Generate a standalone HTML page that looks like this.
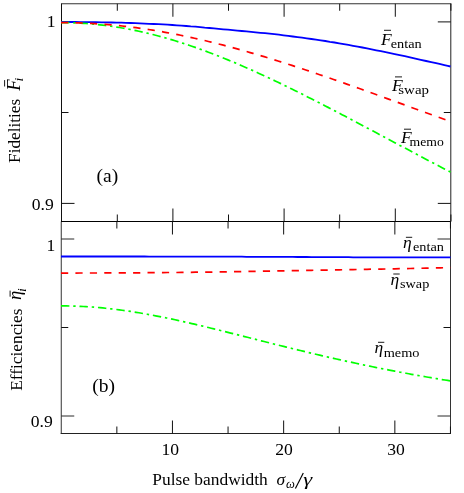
<!DOCTYPE html>
<html><head><meta charset="utf-8"><style>
html,body{margin:0;padding:0;background:#fff}
svg{display:block;will-change:transform}
text{font-family:"Liberation Serif",serif;fill:#000}
.t{font-size:17.6px}
.mi{font-size:17.5px;font-style:italic}
.sub{font-size:13.5px}
.tk{stroke:#111;stroke-width:1}
.tkd{stroke:#000;stroke-width:1}
.tkg{stroke:#2a2a2a;stroke-width:1}
.bar{stroke:#000;stroke-width:0.9}
.c{fill:none;stroke-width:1.7}
</style></head><body>
<svg width="464" height="493" viewBox="0 0 464 493">
<rect width="464" height="493" fill="#fff"/>
<line x1="61.0" y1="3.75" x2="451.3" y2="3.75" stroke="#333"/>
<line x1="450.8" y1="3.75" x2="450.8" y2="221.5" stroke="#222"/>
<line x1="450.5" y1="221.5" x2="450.5" y2="434.0" stroke="#333"/>
<line x1="61.5" y1="3.75" x2="61.5" y2="221.5" stroke="#111"/>
<line x1="61.25" y1="221.5" x2="61.25" y2="434.0" stroke="#333"/>
<line x1="61.0" y1="221.5" x2="450.8" y2="221.5" stroke="#000"/>
<line x1="60.75" y1="433.5" x2="451.0" y2="433.5" stroke="#222"/>
<line x1="117.30" y1="3.75" x2="117.30" y2="10.75" class="tk"/><line x1="117.30" y1="214.5" x2="117.30" y2="221.5" class="tk"/><line x1="116.85" y1="221.5" x2="116.85" y2="228.5" class="tk"/><line x1="116.85" y1="433.5" x2="116.85" y2="426.5" class="tk"/><line x1="172.90" y1="3.75" x2="172.90" y2="16.75" class="tk"/><line x1="172.90" y1="208.5" x2="172.90" y2="221.5" class="tk"/><line x1="172.45" y1="221.5" x2="172.45" y2="234.5" class="tk"/><line x1="172.45" y1="433.5" x2="172.45" y2="420.5" class="tk"/><line x1="228.50" y1="3.75" x2="228.50" y2="10.75" class="tk"/><line x1="228.50" y1="214.5" x2="228.50" y2="221.5" class="tk"/><line x1="228.05" y1="221.5" x2="228.05" y2="228.5" class="tk"/><line x1="228.05" y1="433.5" x2="228.05" y2="426.5" class="tk"/><line x1="284.10" y1="3.75" x2="284.10" y2="16.75" class="tk"/><line x1="284.10" y1="208.5" x2="284.10" y2="221.5" class="tk"/><line x1="283.65" y1="221.5" x2="283.65" y2="234.5" class="tk"/><line x1="283.65" y1="433.5" x2="283.65" y2="420.5" class="tk"/><line x1="339.70" y1="3.75" x2="339.70" y2="10.75" class="tk"/><line x1="339.70" y1="214.5" x2="339.70" y2="221.5" class="tk"/><line x1="339.25" y1="221.5" x2="339.25" y2="228.5" class="tk"/><line x1="339.25" y1="433.5" x2="339.25" y2="426.5" class="tk"/><line x1="395.30" y1="3.75" x2="395.30" y2="16.75" class="tk"/><line x1="395.30" y1="208.5" x2="395.30" y2="221.5" class="tk"/><line x1="394.85" y1="221.5" x2="394.85" y2="234.5" class="tk"/><line x1="394.85" y1="433.5" x2="394.85" y2="420.5" class="tk"/><line x1="450.90" y1="3.75" x2="450.90" y2="10.75" class="tk"/><line x1="450.90" y1="214.5" x2="450.90" y2="221.5" class="tk"/><line x1="450.45" y1="221.5" x2="450.45" y2="228.5" class="tk"/><line x1="450.45" y1="433.5" x2="450.45" y2="426.5" class="tk"/><line x1="61.5" y1="21.9" x2="74.5" y2="21.9" class="tk"/><line x1="450.8" y1="21.9" x2="437.8" y2="21.9" class="tk"/><line x1="61.5" y1="112.5" x2="68.5" y2="112.5" class="tk"/><line x1="450.8" y1="112.5" x2="443.8" y2="112.5" class="tk"/><line x1="61.5" y1="203.4" x2="74.5" y2="203.4" class="tk"/><line x1="450.8" y1="203.4" x2="437.8" y2="203.4" class="tk"/><line x1="61.25" y1="239.0" x2="74.25" y2="239.0" class="tkg"/><line x1="450.5" y1="239.0" x2="437.5" y2="239.0" class="tkg"/><line x1="61.25" y1="327.5" x2="68.25" y2="327.5" class="tk"/><line x1="450.5" y1="327.5" x2="443.5" y2="327.5" class="tk"/><line x1="61.25" y1="416.0" x2="74.25" y2="416.0" class="tkg"/><line x1="450.5" y1="416.0" x2="437.5" y2="416.0" class="tkg"/>
<path d="M61.0,21.9 L63.7,21.9 L67.1,22.0 L71.0,22.0 L75.4,22.0 L80.2,22.1 L85.3,22.1 L90.6,22.2 L96.0,22.2 L101.4,22.3 L106.7,22.4 L111.8,22.5 L116.6,22.6 L121.3,22.7 L125.9,22.9 L130.6,23.0 L135.2,23.2 L139.8,23.4 L144.5,23.6 L149.1,23.8 L153.7,24.0 L158.4,24.2 L163.0,24.4 L167.6,24.7 L172.3,25.0 L176.9,25.3 L181.6,25.6 L186.2,26.0 L190.8,26.4 L195.5,26.7 L200.1,27.1 L204.7,27.6 L209.4,28.0 L214.0,28.4 L218.6,28.8 L223.3,29.3 L227.9,29.7 L232.6,30.1 L237.2,30.6 L241.8,31.0 L246.5,31.4 L251.1,31.8 L255.7,32.3 L260.4,32.8 L265.0,33.2 L269.6,33.7 L274.3,34.2 L278.9,34.7 L283.6,35.3 L288.2,35.9 L292.8,36.5 L297.5,37.1 L302.1,37.7 L306.7,38.3 L311.4,39.0 L316.0,39.6 L320.7,40.3 L325.3,41.0 L329.9,41.8 L334.6,42.5 L339.2,43.3 L343.8,44.1 L348.5,44.9 L353.1,45.8 L357.7,46.6 L362.4,47.5 L367.0,48.4 L371.7,49.3 L376.3,50.3 L380.9,51.2 L385.6,52.2 L390.2,53.1 L394.8,54.1 L399.7,55.1 L404.8,56.2 L410.1,57.4 L415.4,58.6 L420.8,59.8 L426.1,61.0 L431.2,62.1 L436.1,63.2 L440.5,64.2 L444.4,65.1 L447.8,65.9 L450.5,66.5" class="c" stroke="#0000ff" style="stroke-width:1.8"/>
<path d="M61.0,22.60 L63.8,22.61 L66.6,22.65 L69.3,22.70 L72.1,22.78 L74.9,22.88 L77.7,23.01 L80.5,23.15 L83.3,23.32 L86.0,23.51 L88.8,23.72 L91.6,23.96 L94.4,24.22 L97.2,24.50 L99.9,24.80 L102.7,25.12 L105.5,25.47 L108.3,25.83 L111.1,26.22 L113.9,26.63 L116.6,27.06 L119.4,27.51 L122.2,27.99 L125.0,28.48 L127.8,29.00 L130.6,29.53 L133.3,30.09 L136.1,30.67 L138.9,31.26 L141.7,31.88 L144.5,32.52 L147.2,33.17 L150.0,33.85 L152.8,34.55 L155.6,35.26 L158.4,36.00 L161.2,36.75 L163.9,37.52 L166.7,38.31 L169.5,39.12 L172.3,39.94 L175.1,40.79 L177.8,41.65 L180.6,42.53 L183.4,43.42 L186.2,44.33 L189.0,45.26 L191.8,46.21 L194.5,47.17 L197.3,48.15 L200.1,49.14 L202.9,50.15 L205.7,51.17 L208.4,52.21 L211.2,53.26 L214.0,54.33 L216.8,55.41 L219.6,56.51 L222.4,57.62 L225.1,58.74 L227.9,59.88 L230.7,61.03 L233.5,62.19 L236.3,63.36 L239.0,64.55 L241.8,65.74 L244.6,66.95 L247.4,68.18 L250.2,69.41 L253.0,70.65 L255.7,71.90 L258.5,73.17 L261.3,74.44 L264.1,75.72 L266.9,77.02 L269.6,78.32 L272.4,79.63 L275.2,80.95 L278.0,82.28 L280.8,83.62 L283.6,84.96 L286.3,86.32 L289.1,87.68 L291.9,89.04 L294.7,90.42 L297.5,91.80 L300.3,93.19 L303.0,94.58 L305.8,95.98 L308.6,97.39 L311.4,98.80 L314.2,100.22 L316.9,101.64 L319.7,103.07 L322.5,104.50 L325.3,105.94 L328.1,107.38 L330.9,108.82 L333.6,110.27 L336.4,111.72 L339.2,113.18 L342.0,114.64 L344.8,116.10 L347.5,117.56 L350.3,119.03 L353.1,120.50 L355.9,121.97 L358.7,123.45 L361.5,124.92 L364.2,126.40 L367.0,127.88 L369.8,129.36 L372.6,130.84 L375.4,132.32 L378.1,133.80 L380.9,135.28 L383.7,136.76 L386.5,138.25 L389.3,139.73 L392.1,141.21 L394.8,142.70 L397.6,144.18 L400.4,145.66 L403.2,147.14 L406.0,148.62 L408.8,150.10 L411.5,151.58 L414.3,153.05 L417.1,154.53 L419.9,156.00 L422.7,157.47 L425.4,158.94 L428.2,160.41 L431.0,161.87 L433.8,163.34 L436.6,164.80 L439.4,166.26 L442.1,167.71 L444.9,169.17 L447.7,170.62 L450.5,172.06" class="c" stroke="#00ff00" stroke-dasharray="8.4 3.85 2.4 3.85"/>
<path d="M61.0,22.60 L63.8,22.61 L66.6,22.63 L69.3,22.66 L72.1,22.71 L74.9,22.78 L77.7,22.86 L80.5,22.95 L83.3,23.05 L86.0,23.17 L88.8,23.31 L91.6,23.46 L94.4,23.62 L97.2,23.80 L99.9,23.99 L102.7,24.19 L105.5,24.41 L108.3,24.64 L111.1,24.89 L113.9,25.14 L116.6,25.42 L119.4,25.70 L122.2,26.00 L125.0,26.32 L127.8,26.64 L130.6,26.98 L133.3,27.33 L136.1,27.70 L138.9,28.08 L141.7,28.47 L144.5,28.87 L147.2,29.29 L150.0,29.72 L152.8,30.16 L155.6,30.62 L158.4,31.08 L161.2,31.56 L163.9,32.05 L166.7,32.56 L169.5,33.07 L172.3,33.60 L175.1,34.14 L177.8,34.69 L180.6,35.25 L183.4,35.82 L186.2,36.40 L189.0,37.00 L191.8,37.60 L194.5,38.22 L197.3,38.84 L200.1,39.48 L202.9,40.13 L205.7,40.78 L208.4,41.45 L211.2,42.13 L214.0,42.82 L216.8,43.51 L219.6,44.22 L222.4,44.93 L225.1,45.66 L227.9,46.39 L230.7,47.13 L233.5,47.89 L236.3,48.65 L239.0,49.41 L241.8,50.19 L244.6,50.97 L247.4,51.77 L250.2,52.57 L253.0,53.38 L255.7,54.19 L258.5,55.01 L261.3,55.84 L264.1,56.68 L266.9,57.53 L269.6,58.38 L272.4,59.23 L275.2,60.10 L278.0,60.97 L280.8,61.85 L283.6,62.73 L286.3,63.62 L289.1,64.51 L291.9,65.41 L294.7,66.32 L297.5,67.23 L300.3,68.14 L303.0,69.06 L305.8,69.99 L308.6,70.92 L311.4,71.85 L314.2,72.79 L316.9,73.74 L319.7,74.69 L322.5,75.64 L325.3,76.59 L328.1,77.55 L330.9,78.51 L333.6,79.48 L336.4,80.45 L339.2,81.42 L342.0,82.40 L344.8,83.38 L347.5,84.36 L350.3,85.34 L353.1,86.33 L355.9,87.32 L358.7,88.31 L361.5,89.31 L364.2,90.30 L367.0,91.30 L369.8,92.30 L372.6,93.30 L375.4,94.30 L378.1,95.31 L380.9,96.31 L383.7,97.32 L386.5,98.33 L389.3,99.33 L392.1,100.34 L394.8,101.35 L397.6,102.36 L400.4,103.38 L403.2,104.39 L406.0,105.40 L408.8,106.41 L411.5,107.43 L414.3,108.44 L417.1,109.45 L419.9,110.47 L422.7,111.48 L425.4,112.49 L428.2,113.50 L431.0,114.51 L433.8,115.52 L436.6,116.54 L439.4,117.54 L442.1,118.55 L444.9,119.56 L447.7,120.57 L450.5,121.57" class="c" stroke="#ff0000" stroke-dasharray="7.25 7.25"/>
<path d="M61.0,305.90 L63.8,305.91 L66.6,305.94 L69.3,305.98 L72.1,306.05 L74.9,306.13 L77.7,306.23 L80.5,306.35 L83.3,306.49 L86.0,306.65 L88.8,306.82 L91.6,307.01 L94.4,307.22 L97.2,307.45 L99.9,307.69 L102.7,307.95 L105.5,308.23 L108.3,308.52 L111.1,308.84 L113.9,309.16 L116.6,309.50 L119.4,309.86 L122.2,310.24 L125.0,310.62 L127.8,311.03 L130.6,311.44 L133.3,311.88 L136.1,312.32 L138.9,312.78 L141.7,313.25 L144.5,313.73 L147.2,314.23 L150.0,314.74 L152.8,315.26 L155.6,315.79 L158.4,316.33 L161.2,316.88 L163.9,317.45 L166.7,318.02 L169.5,318.60 L172.3,319.19 L175.1,319.79 L177.8,320.40 L180.6,321.02 L183.4,321.64 L186.2,322.27 L189.0,322.91 L191.8,323.55 L194.5,324.20 L197.3,324.86 L200.1,325.52 L202.9,326.19 L205.7,326.86 L208.4,327.54 L211.2,328.22 L214.0,328.90 L216.8,329.59 L219.6,330.28 L222.4,330.97 L225.1,331.67 L227.9,332.37 L230.7,333.07 L233.5,333.77 L236.3,334.47 L239.0,335.18 L241.8,335.88 L244.6,336.59 L247.4,337.29 L250.2,338.00 L253.0,338.71 L255.7,339.41 L258.5,340.12 L261.3,340.83 L264.1,341.53 L266.9,342.23 L269.6,342.93 L272.4,343.64 L275.2,344.33 L278.0,345.03 L280.8,345.73 L283.6,346.42 L286.3,347.11 L289.1,347.80 L291.9,348.48 L294.7,349.16 L297.5,349.84 L300.3,350.52 L303.0,351.19 L305.8,351.87 L308.6,352.53 L311.4,353.20 L314.2,353.86 L316.9,354.51 L319.7,355.16 L322.5,355.81 L325.3,356.46 L328.1,357.10 L330.9,357.74 L333.6,358.37 L336.4,359.00 L339.2,359.62 L342.0,360.24 L344.8,360.86 L347.5,361.47 L350.3,362.08 L353.1,362.68 L355.9,363.28 L358.7,363.87 L361.5,364.46 L364.2,365.05 L367.0,365.63 L369.8,366.20 L372.6,366.78 L375.4,367.34 L378.1,367.90 L380.9,368.46 L383.7,369.01 L386.5,369.56 L389.3,370.11 L392.1,370.64 L394.8,371.18 L397.6,371.71 L400.4,372.23 L403.2,372.75 L406.0,373.27 L408.8,373.78 L411.5,374.29 L414.3,374.79 L417.1,375.29 L419.9,375.78 L422.7,376.27 L425.4,376.75 L428.2,377.23 L431.0,377.71 L433.8,378.18 L436.6,378.64 L439.4,379.10 L442.1,379.56 L444.9,380.01 L447.7,380.46 L450.5,380.91" class="c" stroke="#00ff00" stroke-dasharray="8.4 3.85 2.4 3.85"/>
<path d="M61.0,273.1 L63.7,273.1 L67.1,273.1 L71.0,273.1 L75.4,273.1 L80.2,273.0 L85.3,273.0 L90.6,273.0 L96.0,273.0 L101.4,273.0 L106.7,272.9 L111.8,272.9 L116.6,272.9 L121.3,272.9 L125.9,272.8 L130.6,272.8 L135.2,272.8 L139.8,272.8 L144.5,272.7 L149.1,272.7 L153.7,272.7 L158.4,272.6 L163.0,272.6 L167.6,272.5 L172.3,272.5 L176.9,272.5 L181.6,272.4 L186.2,272.4 L190.8,272.3 L195.5,272.2 L200.1,272.2 L204.7,272.1 L209.4,272.1 L214.0,272.0 L218.6,271.9 L223.3,271.9 L227.9,271.8 L232.6,271.7 L237.2,271.7 L241.8,271.6 L246.5,271.5 L251.1,271.4 L255.7,271.3 L260.4,271.2 L265.0,271.1 L269.6,271.1 L274.3,271.0 L278.9,270.9 L283.6,270.8 L288.2,270.7 L292.8,270.6 L297.5,270.6 L302.1,270.5 L306.7,270.4 L311.4,270.3 L316.0,270.2 L320.7,270.1 L325.3,270.1 L329.9,270.0 L334.6,269.9 L339.2,269.8 L343.8,269.7 L348.5,269.6 L353.1,269.6 L357.7,269.5 L362.4,269.4 L367.0,269.3 L371.7,269.2 L376.3,269.1 L380.9,269.1 L385.6,269.0 L390.2,268.9 L394.8,268.8 L399.7,268.7 L404.8,268.6 L410.1,268.5 L415.4,268.4 L420.8,268.3 L426.1,268.1 L431.2,268.0 L436.1,267.9 L440.5,267.8 L444.4,267.7 L447.8,267.7 L450.5,267.6" class="c" stroke="#ff0000" stroke-dasharray="7.21 7.21"/>
<path d="M61.0,256.5 L63.7,256.5 L67.1,256.5 L71.0,256.5 L75.4,256.5 L80.2,256.5 L85.3,256.5 L90.6,256.5 L96.0,256.5 L101.4,256.5 L106.7,256.5 L111.8,256.5 L116.6,256.5 L121.3,256.5 L125.9,256.5 L130.6,256.5 L135.2,256.5 L139.8,256.5 L144.5,256.5 L149.1,256.6 L153.7,256.6 L158.4,256.6 L163.0,256.6 L167.6,256.6 L172.3,256.6 L176.9,256.6 L181.6,256.6 L186.2,256.6 L190.8,256.6 L195.5,256.6 L200.1,256.6 L204.7,256.7 L209.4,256.7 L214.0,256.7 L218.6,256.7 L223.3,256.7 L227.9,256.7 L232.6,256.7 L237.2,256.7 L241.8,256.7 L246.5,256.8 L251.1,256.8 L255.7,256.8 L260.4,256.8 L265.0,256.8 L269.6,256.8 L274.3,256.9 L278.9,256.9 L283.6,256.9 L288.2,256.9 L292.8,256.9 L297.5,257.0 L302.1,257.0 L306.7,257.0 L311.4,257.1 L316.0,257.1 L320.7,257.1 L325.3,257.1 L329.9,257.2 L334.6,257.2 L339.2,257.2 L343.8,257.2 L348.5,257.2 L353.1,257.3 L357.7,257.3 L362.4,257.3 L367.0,257.3 L371.7,257.3 L376.3,257.4 L380.9,257.4 L385.6,257.4 L390.2,257.4 L394.8,257.4 L399.7,257.4 L404.8,257.4 L410.1,257.4 L415.4,257.4 L420.8,257.4 L426.1,257.4 L431.2,257.4 L436.1,257.4 L440.5,257.4 L444.4,257.4 L447.8,257.4 L450.5,257.4" class="c" stroke="#0000ff" style="stroke-width:1.8"/>
<text x="55.6" y="26.5" text-anchor="end" class="t">1</text>
<text x="53.7" y="210" text-anchor="end" class="t">0.9</text>
<text x="55.4" y="251" text-anchor="end" class="t">1</text>
<text x="52.8" y="427.4" text-anchor="end" class="t">0.9</text>
<text x="170.2" y="455" text-anchor="middle" class="t">10</text>
<text x="284" y="455" text-anchor="middle" class="t">20</text>
<text x="396" y="455" text-anchor="middle" class="t">30</text>
<text x="96.5" y="181.6" class="t" style="font-size:19.5px">(a)</text>
<text x="92.2" y="392.2" class="t" style="font-size:19.5px">(b)</text>
<text x="152.3" y="484.7" class="t" style="font-size:17.4px">Pulse bandwidth</text>
<text x="276.5" y="484.7" class="mi">σ</text>
<text x="286" y="487.5" class="mi" style="font-size:12.5px">ω</text>
<line x1="295.4" y1="488.6" x2="303.3" y2="472.9" stroke="#000" stroke-width="1.15"/>
<text transform="translate(303.2,484.7) scale(1.3,1)" x="0" y="0" class="mi">γ</text>
<g transform="translate(20.1,162.9) rotate(-90)"><text x="0" y="0" class="t" style="font-size:17.7px" textLength="64" lengthAdjust="spacingAndGlyphs">Fidelities</text>
<text x="72.2" y="0" class="mi" style="font-size:18.6px">F</text><text x="81.5" y="3.3" class="mi" style="font-size:13.5px">i</text><line x1="76.4" y1="-15.5" x2="82.8" y2="-15.5" class="bar"/></g>
<g transform="translate(21.6,390.7) rotate(-90)"><text x="0" y="0" class="t" style="font-size:17.7px" textLength="82.2" lengthAdjust="spacingAndGlyphs">Efficiencies</text>
<text x="90.7" y="-0.3" class="mi" style="font-size:18.6px">η</text><text x="98.8" y="4.3" class="mi" style="font-size:13.5px">i</text><line x1="94" y1="-11.5" x2="100.1" y2="-11.5" class="bar"/></g>
<text x="381" y="44.5" class="mi">F</text><text x="390.7" y="47.6" class="sub" textLength="31" lengthAdjust="spacingAndGlyphs">entan</text><line x1="384" y1="30.3" x2="391" y2="30.3" class="bar"/><text x="392" y="90.6" class="mi">F</text><text x="398.3" y="94.2" class="sub" textLength="30.7" lengthAdjust="spacingAndGlyphs">swap</text><line x1="395" y1="76.9" x2="402" y2="76.9" class="bar"/><text x="401" y="143.4" class="mi">F</text><text x="409.6" y="146" class="sub" textLength="34.2" lengthAdjust="spacingAndGlyphs">memo</text><line x1="404" y1="129.2" x2="411" y2="129.2" class="bar"/><text x="403" y="248.4" class="mi">η</text><text x="413" y="251.2" class="sub" textLength="31" lengthAdjust="spacingAndGlyphs">entan</text><line x1="405.9" y1="237.3" x2="412.2" y2="237.3" class="bar"/><text x="390.5" y="285" class="mi">η</text><text x="400" y="287.8" class="sub" textLength="29.3" lengthAdjust="spacingAndGlyphs">swap</text><line x1="393.3" y1="274" x2="399.7" y2="274" class="bar"/><text x="374.6" y="352.8" class="mi">η</text><text x="383.7" y="356.8" class="sub" textLength="35.8" lengthAdjust="spacingAndGlyphs">memo</text><line x1="378.0" y1="342.3" x2="384.3" y2="342.3" class="bar"/>
</svg></body></html>
